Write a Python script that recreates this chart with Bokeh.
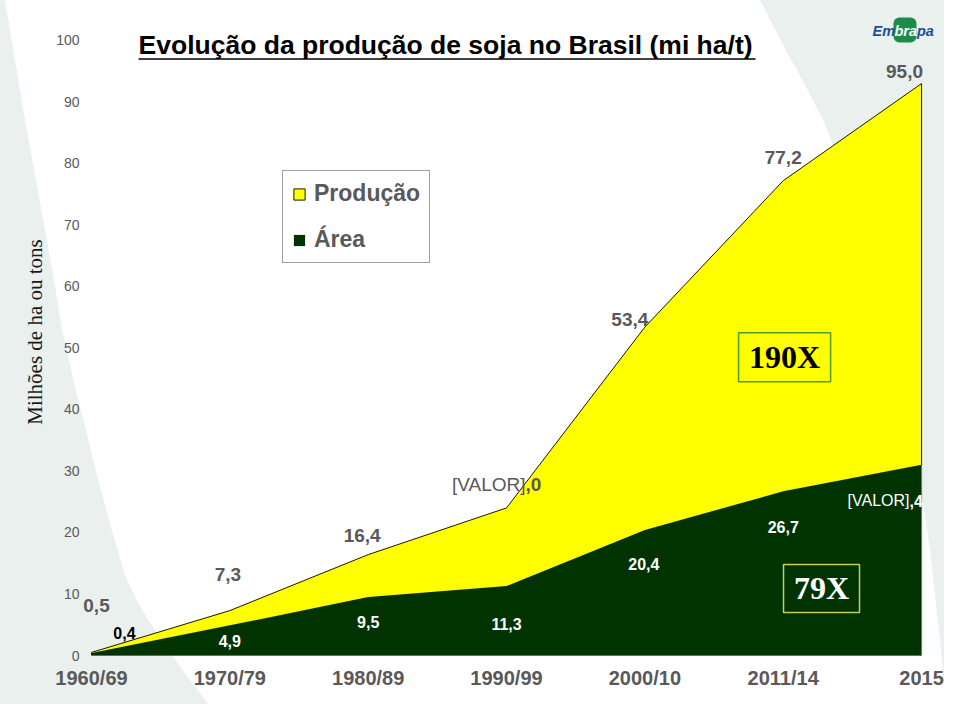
from urllib.parse import quote
from bokeh.plotting import figure
from bokeh.models import (Range1d, FixedTicker, Label, BoxAnnotation,
                          Legend, LegendItem, ColumnDataSource)
from bokeh.embed import file_html
from bokeh.resources import INLINE
from bokeh.core.properties import value

# ---------------- data ----------------
categories = ["1960/69", "1970/79", "1980/89", "1990/99", "2000/10", "2011/14", "2015"]
producao = [0.5, 7.3, 16.4, 24.0, 53.4, 77.2, 93.0]
area = [0.4, 4.9, 9.5, 11.3, 20.4, 26.7, 31.0]
producao_labels = ["0,5", "7,3", "16,4", "[VALOR],0", "53,4", "77,2", "95,0"]
area_labels = ["0,4", "4,9", "9,5", "11,3", "20,4", "26,7", "[VALOR],4"]
y_ticks = [0, 10, 20, 30, 40, 50, 60, 70, 80, 90, 100]

# ---------------- label placement (pixel offsets, styling only) ----------------
prod_dx = [5, -2, -6, 19, -15, 0, -17]
prod_dy = [-47, -36, -19, -23, -8, -23, -12]
area_dx = [33, 0, 0, 0, -1, 0, -12]
area_dy = [-20, 16, 25, 38, 34, 36, 36]
area_colors = ["black", "white", "white", "white", "white", "white", "white"]

FONT = "Liberation Sans"
SERIF = "Liberation Serif"
GREY = "#595959"
YELLOW = "#FFFF00"
GREEN = "#003300"
BG = "#E9F0EE"

xs = list(range(len(categories)))

p = figure(width=944, height=704, x_range=Range1d(-0.065, 6.137), y_range=Range1d(0, 105.2),
           output_backend="svg", toolbar_location=None,
           min_border_left=82, min_border_right=4, min_border_top=8, min_border_bottom=49)
p.outline_line_color = None
p.grid.visible = False
p.background_fill_color = None
p.border_fill_color = None

# ---------------- slide background swoosh (page decoration) ----------------
left_curve = [(0, 0), (5, 0), (15, 60), (25, 120), (35, 175), (45, 230), (54, 280), (62, 330),
              (70, 365), (78, 400), (86, 430), (93, 460), (100, 487), (107, 513), (116, 545),
              (125, 575), (135, 597), (145, 615), (156, 632), (167, 647), (178, 664),
              (190, 680), (205, 700), (220, 720), (0, 720)]
right_curve = [(760, 0), (782, 43), (805, 85), (823, 120), (848, 180), (870, 250), (888, 330),
               (903, 410), (918, 470), (930, 550), (940, 640), (947, 720), (960, 720), (960, 0)]
def path(pts):
    return "M" + " L".join(f"{a},{b}" for a, b in pts) + " Z"
svg = ("<svg xmlns='http://www.w3.org/2000/svg' width='944' height='704'>"
       f"<path d='{path(left_curve)}' fill='{BG}'/><path d='{path(right_curve)}' fill='{BG}'/></svg>")
p.styles = {"background-color": "white",
            "background-image": 'url("data:image/svg+xml,' + quote(svg) + '")',
            "background-repeat": "no-repeat",
            "background-position": "0 0"}

# ---------------- areas ----------------
prod_r = p.patch(xs + [xs[-1], xs[0]], producao + [0, 0], fill_color=YELLOW,
                 line_color="#1a1a00", line_width=1)
area_r = p.varea(x=xs, y1=[0] * len(xs), y2=area, fill_color=GREEN)
p.segment(x0=[xs[-1]], y0=[0], x1=[xs[-1]], y1=[area[-1]], line_color="#7a7a7a", line_width=1)

# ---------------- data labels ----------------
def add_labels(vals, labels, dx, dy, size, colors):
    plain = [i for i, l in enumerate(labels) if "]" not in l]
    src = ColumnDataSource(dict(x=[xs[i] for i in plain], y=[vals[i] for i in plain],
                                t=[labels[i] for i in plain], dx=[dx[i] for i in plain],
                                dy=[dy[i] for i in plain], c=[colors[i] for i in plain]))
    p.text(x="x", y="y", text="t", x_offset="dx", y_offset="dy", text_color="c",
           text_font=value(FONT), text_font_style="bold", text_font_size=size,
           text_align="center", text_baseline="middle", source=src)
    for i, l in enumerate(labels):
        if "]" in l:
            k = l.index("]") + 1
            p.text(x=[xs[i]], y=[vals[i]], text=[l[:k]], x_offset=dx[i], y_offset=dy[i],
                   text_color=colors[i], text_font=value(FONT), text_font_style="normal",
                   text_font_size=size, text_align="right", text_baseline="middle")
            p.text(x=[xs[i]], y=[vals[i]], text=[l[k:]], x_offset=dx[i], y_offset=dy[i],
                   text_color=colors[i], text_font=value(FONT), text_font_style="bold",
                   text_font_size=size, text_align="left", text_baseline="middle")

add_labels(producao, producao_labels, prod_dx, prod_dy, "19px", [GREY] * len(xs))
add_labels(area, area_labels, area_dx, area_dy, "16px", area_colors)

# ---------------- ratio boxes ----------------
p.rect(x=[5.01], y=[48.5], width=92, height=49, width_units="screen", height_units="screen",
       fill_color=None, line_color="#4f9a34", line_width=1.5)
p.text(x=[5.01], y=[48.5], text=["190X"], text_font=value(SERIF), text_font_style="bold",
       text_font_size="32px", text_color="black", text_align="center", text_baseline="middle")
p.rect(x=[5.277], y=[10.9], width=76, height=48, width_units="screen", height_units="screen",
       fill_color=None, line_color="#c8d050", line_width=1.5)
p.text(x=[5.277], y=[10.9], text=["79X"], text_font=value(SERIF), text_font_style="bold",
       text_font_size="32px", text_color="white", text_align="center", text_baseline="middle")

# ---------------- title ----------------
p.add_layout(Label(x=0.34, y=99.2, text="Evolução da produção de soja no Brasil (mi ha/t)",
                   text_font=FONT, text_font_style="bold", text_font_size="26.5px",
                   text_color="black", text_baseline="middle", text_align="left"))
p.segment(x0=[0.34], y0=[97.0], x1=[4.80], y1=[97.0], line_color="black", line_width=1.5)

# ---------------- logo ----------------
p.add_layout(BoxAnnotation(left=893, right=916, top=17, bottom=42, left_units="canvas",
                           right_units="canvas", top_units="canvas", bottom_units="canvas",
                           fill_color="#1e8a4c", fill_alpha=1, line_color=None,
                           border_radius=6, level="overlay"))
for txt, xx, col in (("Em", 872, "#1b4f9c"), ("bra", 894, "white"), ("pa", 916.5, "#1b4f9c")):
    p.add_layout(Label(x=xx, y=30, x_units="canvas", y_units="canvas", text=txt,
                       text_font=FONT, text_font_style="bold italic", text_font_size="14.5px",
                       text_color=col, text_baseline="middle", text_align="left", level="overlay"))

# ---------------- legend ----------------
legend = Legend(items=[LegendItem(label="Produção", renderers=[prod_r]),
                       LegendItem(label="Área", renderers=[area_r])],
                location=(200, 392), label_text_font=FONT, label_text_font_style="bold",
                label_text_font_size="23px", label_text_color=GREY, glyph_width=14,
                glyph_height=14, label_standoff=8, padding=9, spacing=19, label_height=27,
                border_line_color="#404040", border_line_width=1,
                background_fill_color="white", background_fill_alpha=1, margin=0)
p.add_layout(legend)

# ---------------- axes ----------------
p.yaxis.ticker = FixedTicker(ticks=y_ticks)
p.yaxis.axis_line_color = None
p.yaxis.major_tick_line_color = None
p.yaxis.minor_tick_line_color = None
p.yaxis.major_tick_out = 0
p.yaxis.major_label_standoff = 3
p.yaxis.major_label_text_font = FONT
p.yaxis.major_label_text_font_size = "14px"
p.yaxis.major_label_text_color = GREY
p.yaxis.axis_label = "Milhões de ha ou tons"
p.yaxis.axis_label_text_font = SERIF
p.yaxis.axis_label_text_font_style = "normal"
p.yaxis.axis_label_text_font_size = "21px"
p.yaxis.axis_label_text_color = "#1a1a1a"
p.yaxis.axis_label_standoff = 6

p.xaxis.ticker = FixedTicker(ticks=xs)
p.xaxis.major_label_overrides = {i: c for i, c in zip(xs, categories)}
p.xaxis.axis_line_color = None
p.xaxis.major_tick_line_color = None
p.xaxis.minor_tick_line_color = None
p.xaxis.major_tick_out = 0
p.xaxis.major_label_standoff = 11
p.xaxis.major_label_text_font = FONT
p.xaxis.major_label_text_font_style = "bold"
p.xaxis.major_label_text_font_size = "20px"
p.xaxis.major_label_text_color = GREY

open("out.html", "w").write(file_html(p, INLINE))
